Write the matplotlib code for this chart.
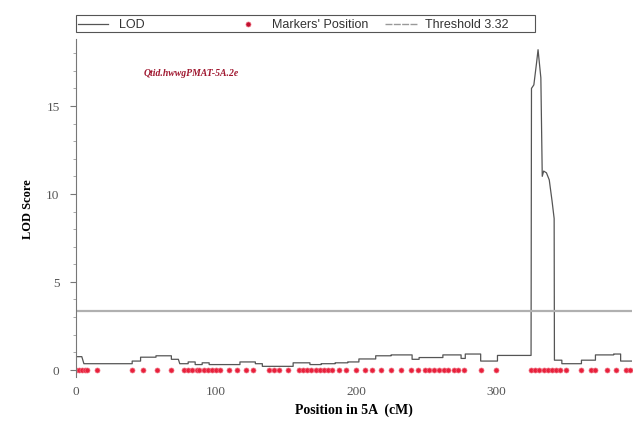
import matplotlib.pyplot as plt
import numpy as np
from matplotlib.ticker import MultipleLocator
from matplotlib.lines import Line2D
from matplotlib.patches import Rectangle

# LOD profile along chromosome 5A (cM, LOD)
lod_pos = [0, 4, 5.5, 40, 40, 46, 46, 57, 57, 68, 68, 73, 74, 80, 80, 85, 85, 90, 90, 95, 95,
           117, 117, 128, 128, 133, 133, 155, 155, 167, 167, 175, 175, 185, 185, 194, 194, 202,
           202, 214, 214, 225, 225, 240, 240, 245, 245, 262, 262, 275, 275, 278, 278, 289, 289,
           301, 301, 325, 325.3, 327, 329, 330, 331, 332, 333, 334, 336, 338, 340, 341.5, 341.7,
           347, 347, 361, 361, 371, 371, 384, 384, 389, 389, 397]
lod_val = [0.75, 0.75, 0.35, 0.35, 0.5, 0.5, 0.72, 0.72, 0.8, 0.8, 0.6, 0.6, 0.35, 0.35, 0.45, 0.45,
           0.3, 0.3, 0.4, 0.4, 0.3, 0.3, 0.45, 0.45, 0.35, 0.35, 0.2, 0.2, 0.4, 0.4, 0.3, 0.3, 0.35,
           0.35, 0.4, 0.4, 0.45, 0.45, 0.62, 0.62, 0.8, 0.8, 0.85, 0.85, 0.6, 0.6, 0.7, 0.7, 0.85,
           0.85, 0.65, 0.65, 0.9, 0.9, 0.5, 0.5, 0.82, 0.82, 16.0, 16.2, 17.5, 18.2, 17.4, 16.6, 11.0,
           11.3, 11.2, 10.8, 9.6, 8.6, 0.55, 0.55, 0.35, 0.35, 0.55, 0.55, 0.85, 0.85, 0.9, 0.9, 0.5, 0.5]

markers = [0, 2, 4, 6, 8, 15, 40, 48, 58, 68, 77, 80, 83, 86, 88, 91, 94, 97, 100, 103, 109, 115,
           121, 126, 138, 141, 145, 151, 159, 162, 165, 168, 171, 174, 177, 180, 183, 188, 193, 200,
           206, 211, 218, 225, 232, 239, 244, 249, 252, 256, 259, 263, 266, 270, 273, 277, 289, 300,
           325, 328, 331, 334, 337, 340, 343, 346, 350, 361, 368, 371, 379, 386, 393, 396]

threshold = 3.32
qtl_name = "Qtid.hwwgPMAT-5A.2e"
legend_labels = ["LOD", "Markers' Position", "Threshold 3.32"]

W, H = 635, 427
fig = plt.figure(figsize=(W / 100, H / 100), dpi=100)
ax = fig.add_axes([0.12, 0.115, 0.875, 0.791])

lod_color = "#555555"
mk_color = "#e8203c"
thr_color = "#b0b0b0"

ax.plot(lod_pos, lod_val, color=lod_color, lw=0.9)
ax.plot(markers, np.zeros(len(markers)), ls="none", marker="o", ms=3.6,
        color=mk_color, mec="#f07080", mew=0.5)
ax.axhline(threshold, color=thr_color, lw=1.6)

ax.text(48, 16.9, qtl_name, color="#a01830", fontsize=7, style="italic", weight="bold",
        family="Liberation Serif", va="center")

ax.set_xlim(0, 397)
ax.set_ylim(-0.4, 18.8)
ax.set_xticks([0, 100, 200, 300])
ax.yaxis.set_major_locator(MultipleLocator(5))
ax.yaxis.set_minor_locator(MultipleLocator(1))
for s in ["top", "right", "bottom"]:
    ax.spines[s].set_visible(False)
ax.spines["left"].set_color("#777777")
ax.tick_params(axis="x", length=0, pad=6)
ax.tick_params(axis="y", which="major", length=4, color="#777777", pad=8)
ax.tick_params(axis="y", which="minor", length=2, color="#999999")
for lab in ax.get_xticklabels() + ax.get_yticklabels():
    lab.set_family("Liberation Serif")
    lab.set_fontsize(9.5)
    lab.set_color("#555555")

ax.set_xlabel("Position in 5A  (cM)", family="Liberation Serif", weight="bold", fontsize=10,
              labelpad=4)
ax.set_ylabel("LOD Score", family="Liberation Serif", weight="bold", fontsize=9, labelpad=9)

# legend box with three fixed-width columns, laid out in pixels
def fx(px):
    return px / W

def fy(py):
    return 1 - py / H

fig.add_artist(Rectangle((fx(76), fy(33)), fx(535) - fx(76), fy(16) - fy(33),
                         transform=fig.transFigure, fill=False, ec="#555555", lw=0.8))
yc = fy(24.5)
fig.add_artist(Line2D([fx(78), fx(108)], [yc, yc], transform=fig.transFigure,
                      color=lod_color, lw=0.9))
fig.add_artist(Line2D([fx(248)], [yc], transform=fig.transFigure, ls="none", marker="o",
                      ms=3.6, color="#c01030", mec="#f07080", mew=0.5))
fig.add_artist(Line2D([fx(385), fx(417)], [yc, yc], transform=fig.transFigure,
                      color="#999999", lw=1.0, ls=(0, (5, 1))))
for px, label in zip([119, 272, 425], legend_labels):
    fig.text(fx(px), yc, label, family="Liberation Sans", fontsize=9, va="center",
             color="#333333")

fig.savefig("out.png", dpi=100)
